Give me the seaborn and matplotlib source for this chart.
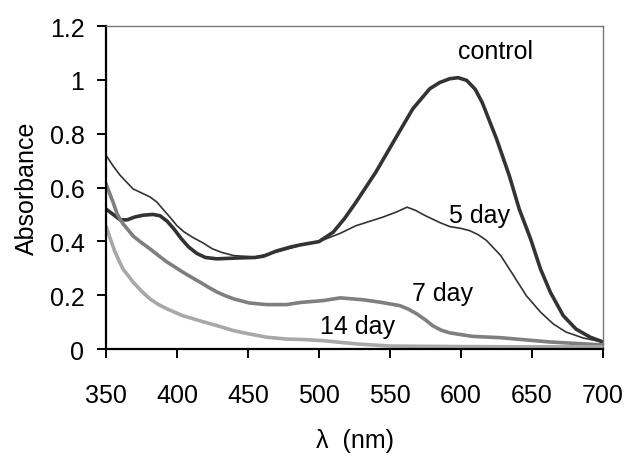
import matplotlib
matplotlib.use("Agg")
import matplotlib.pyplot as plt
import seaborn as sns
import pandas as pd

# spectra (wavelength in nm, absorbance)
control_wl = [350, 355, 360, 365, 370, 376, 383, 388, 393, 398, 403, 408, 414, 420, 428,
              442, 455, 461, 470, 480, 487, 500, 510, 518, 526, 540, 555, 566, 578, 585,
              592, 598, 604, 610, 615, 625, 634, 641, 649, 656, 663, 672, 681, 691, 700]
control_abs = [0.52, 0.50, 0.48, 0.48, 0.49, 0.497, 0.50, 0.495, 0.475, 0.445, 0.41, 0.38,
               0.355, 0.34, 0.335, 0.338, 0.34, 0.345, 0.364, 0.379, 0.387, 0.399, 0.434,
               0.485, 0.545, 0.657, 0.793, 0.892, 0.967, 0.99, 1.004, 1.008, 0.998, 0.965,
               0.915, 0.781, 0.644, 0.52, 0.409, 0.297, 0.21, 0.124, 0.074, 0.044, 0.026]

day5_wl = [350, 355, 360, 369, 375, 381, 386, 390, 395, 400, 405, 411, 418, 425, 432, 440,
           455, 470, 487, 500, 515, 526, 545, 555, 562, 568, 575, 585, 592, 600, 606, 612,
           618, 628, 637, 646, 656, 665, 674, 686, 700]
day5_abs = [0.72, 0.68, 0.645, 0.595, 0.58, 0.565, 0.545, 0.52, 0.49, 0.458, 0.435, 0.415,
            0.395, 0.372, 0.358, 0.347, 0.342, 0.36, 0.385, 0.399, 0.43, 0.458, 0.49, 0.51,
            0.527, 0.515, 0.495, 0.47, 0.455, 0.448, 0.44, 0.425, 0.403, 0.347, 0.273,
            0.198, 0.137, 0.093, 0.063, 0.041, 0.026]

day7_wl = [350, 355, 358, 362, 366, 369, 375, 381, 387, 393, 399, 404, 410, 416, 422, 428,
           434, 440, 451, 463, 477, 487, 503, 515, 531, 543, 557, 563, 569, 575, 580, 586,
           592, 608, 628, 663, 700]
day7_abs = [0.613, 0.545, 0.5, 0.465, 0.44, 0.42, 0.395, 0.372, 0.347, 0.323, 0.303, 0.286,
            0.267, 0.249, 0.23, 0.212, 0.198, 0.186, 0.171, 0.165, 0.165, 0.173, 0.18, 0.19,
            0.183, 0.174, 0.161, 0.148, 0.13, 0.108, 0.087, 0.07, 0.06, 0.047, 0.042,
            0.026, 0.015]

day14_wl = [350, 353, 356, 359, 362, 366, 369, 375, 381, 387, 393, 404, 416, 428, 440, 451,
            463, 477, 490, 503, 526, 550, 600, 650, 700]
day14_abs = [0.457, 0.41, 0.365, 0.33, 0.297, 0.27, 0.249, 0.215, 0.186, 0.165, 0.149,
             0.124, 0.105, 0.087, 0.068, 0.056, 0.044, 0.037, 0.035, 0.031, 0.019, 0.011,
             0.009, 0.008, 0.008]

labels = ["control", "5 day", "7 day", "14 day"]
label_pos = [(624, 1.108), (613, 0.498), (587, 0.208), (527, 0.086)]

sns.set_style("white")
plt.rcParams['font.family'] = ['Liberation Sans', 'DejaVu Sans']
plt.rcParams['text.color'] = 'black'
plt.rcParams['axes.labelcolor'] = 'black'
plt.rcParams['xtick.color'] = 'black'
plt.rcParams['ytick.color'] = 'black'

fig = plt.figure(figsize=(6.28, 4.60), dpi=100)
ax = fig.add_axes([0.1688, 0.2391, 0.7914, 0.7022])

series = [
    (control_wl, control_abs, "#333333", 2.6),
    (day5_wl, day5_abs, "#333333", 1.2),
    (day7_wl, day7_abs, "#7f7f7f", 2.6),
    (day14_wl, day14_abs, "#a8a8a8", 2.6),
]
for wl, ab, col, lw in series:
    df = pd.DataFrame({"wl": wl, "abs": ab})
    sns.lineplot(data=df, x="wl", y="abs", color=col, linewidth=lw, ax=ax)

for txt, (x, y) in zip(labels, label_pos):
    ax.text(x, y, txt, ha="center", va="center", fontsize=18, color="black")

ax.set_xlim(350, 700)
ax.set_ylim(0, 1.2)
ax.set_xticks(range(350, 701, 50))
ax.set_yticks([0, 0.2, 0.4, 0.6, 0.8, 1.0, 1.2])
ax.set_yticklabels(["0", "0.2", "0.4", "0.6", "0.8", "1", "1.2"])
ax.tick_params(axis="x", direction="out", length=6.5, width=1.4, colors="black",
               labelsize=18, pad=18, bottom=True)
ax.tick_params(axis="y", direction="out", length=6.5, width=1.4, colors="black",
               labelsize=18, pad=9, left=True)

ax.set_xlabel("λ  (nm)", fontsize=18, labelpad=15, color="black")
ax.set_ylabel("Absorbance", fontsize=18, labelpad=8, color="black")

for side in ["left", "bottom"]:
    ax.spines[side].set_color("black")
    ax.spines[side].set_linewidth(1.6)
for side in ["top", "right"]:
    ax.spines[side].set_color("#777777")
    ax.spines[side].set_linewidth(1.0)

fig.savefig("out.png", dpi=100)
